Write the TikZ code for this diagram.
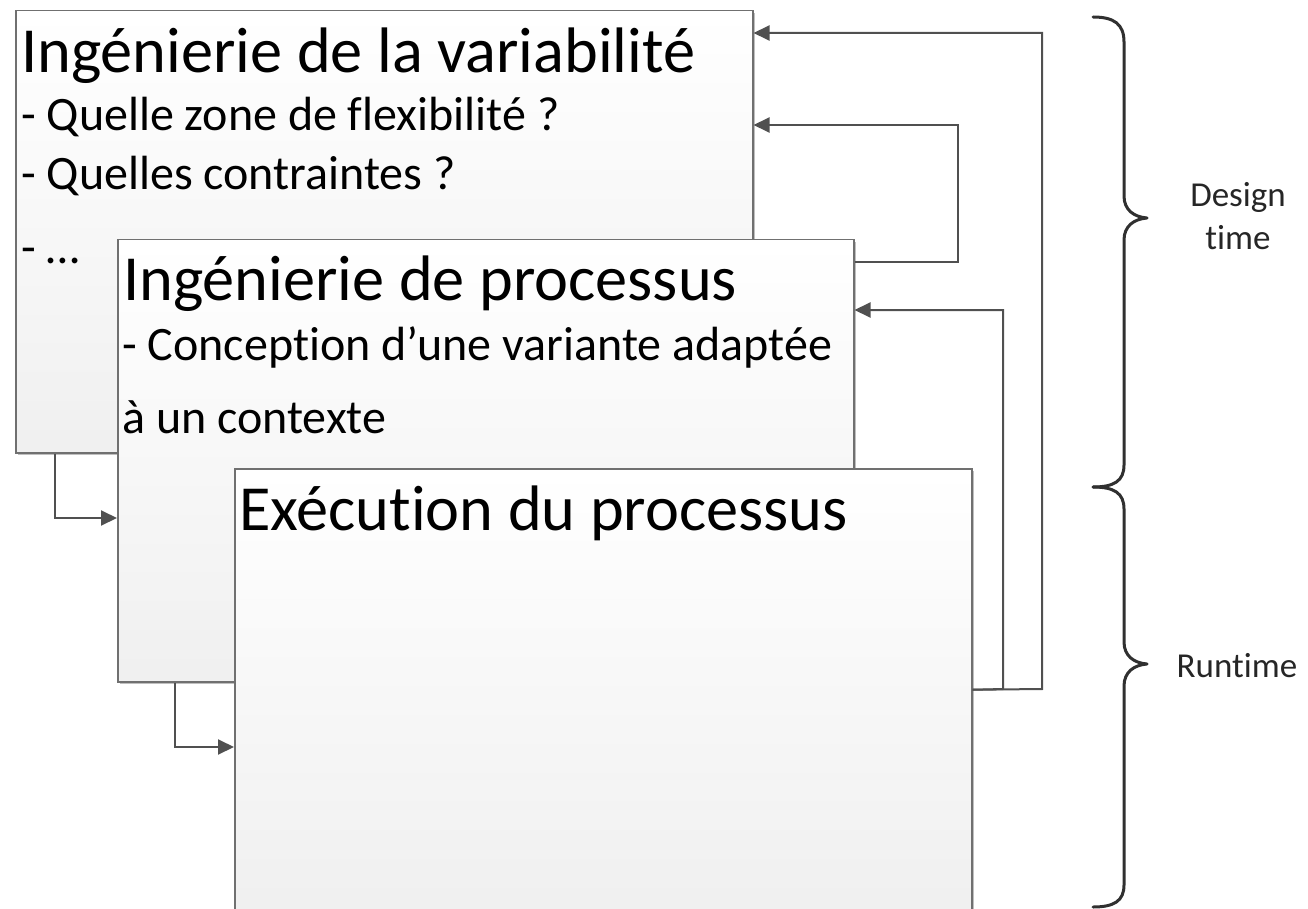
\documentclass[tikz,border=0pt]{standalone}
\usepackage{fontspec}
\setmainfont{Carlito}[Ligatures={NoCommon,NoRequired,NoContextual}]
\usetikzlibrary{arrows.meta,shadows}
\definecolor{edge}{HTML}{707070}
\definecolor{arr}{HTML}{505050}
\definecolor{brc}{HTML}{303030}
\tikzset{
 panel/.style={draw=edge, line width=1.5pt, top color=white, bottom color=black!6, rectangle, inner sep=0pt, anchor=north west,
   drop shadow={shadow xshift=2pt, shadow yshift=-2pt, opacity=0.25, fill=black}},
 ttl/.style={anchor=base west, inner sep=0pt, font=\fontsize{64.3}{70}\selectfont},
 sub/.style={anchor=base west, inner sep=0pt, font=\fontsize{48}{52}\selectfont},
 lbl/.style={anchor=base, inner sep=0pt, font=\fontsize{35}{40}\selectfont, text=black!85},
 link/.style={draw=arr, line width=2pt, -{Triangle[length=16pt,width=15pt]}},
 brace/.style={draw=brc, line width=3pt, line cap=round, line join=round},
}
\begin{document}
\begin{tikzpicture}[x=1pt,y=-1pt]
\useasboundingbox (0,0) rectangle (1308,909);
% panels
\node[panel, minimum width=737pt, minimum height=442pt] (b1) at (15,10) {};
\node[ttl] (t1) at (21,73) {Ingénierie de la variabilité};
\node[sub] (s11) at (21,131) {- Quelle zone de flexibilité ?};
\node[sub] (s12) at (21,190) {- Quelles contraintes ?};
\node[sub] (s13) at (21,263) {- …};

\node[panel, minimum width=736pt, minimum height=442pt] (b2) at (117,239) {};
\node[ttl] (t2) at (123,300) {Ingénierie de processus};
\node[sub] (s21) at (122,360) {- Conception d’une variante adaptée};
\node[sub] (s22) at (122,433) {à un contexte};

\node[panel, minimum width=737pt, minimum height=442pt] (b3) at (234,468) {};
\node[ttl] (t3) at (239,530) {Exécution du processus};

% connectors
\draw[link] (b3.east) -- (1042,689) -- (1042,33) -- (b1.east |- 0,33);
\draw[link] (b2.east |- 0,262) -- (958,262) -- (958,125) -- (b1.east |- 0,125);
\draw[link] (b3.east) -- (1003,689) -- (1003,310) -- (b2.east |- 0,310);
\draw[link] (b1.south -| 55,0) -- (55,518) -- (b2.west |- 0,518);
\draw[link] (b2.south -| 175,0) -- (175,747) -- (b3.west |- 0,747);

% braces
\draw[brace] (1093,17) .. controls (1114,17) and (1124,24) .. (1124,42) -- (1124,196)
  .. controls (1124,210) and (1134,217) .. (1147,218)
  .. controls (1134,219) and (1124,226) .. (1124,240) -- (1124,465)
  .. controls (1124,481) and (1114,487) .. (1093,487);
\draw[brace] (1093,487) .. controls (1114,487) and (1124,493) .. (1124,509) -- (1124,642)
  .. controls (1124,656) and (1134,663) .. (1147,664)
  .. controls (1134,665) and (1124,672) .. (1124,686) -- (1124,885)
  .. controls (1124,901) and (1114,907) .. (1093,907);

% labels
\node[lbl] (l1) at (1238,207) {Design};
\node[lbl] (l2) at (1238,250) {time};
\node[lbl] (l3) at (1237,677) {Runtime};
\end{tikzpicture}
\end{document}
